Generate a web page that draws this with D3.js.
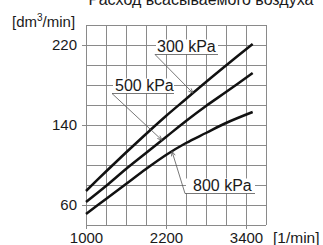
<!DOCTYPE html>
<html><head><meta charset="utf-8">
<script src="https://cdn.jsdelivr.net/npm/d3@7"></script>
<style>html,body{margin:0;padding:0;background:#fff;}svg{display:block;}</style>
</head><body>
<svg id="c" width="323" height="245"></svg>
<script>
const rpm = [1000, 1300, 1600, 1900, 2200, 2500, 2800, 3100, 3500];
const flow300 = [74, 93.5, 112.5, 131, 149, 166, 183, 199.5, 221];
const flow500 = [63, 79, 96, 112, 128, 144, 159, 173, 192];
const flow800 = [51, 66, 81, 96, 110, 122, 132, 142, 153];
const seriesNames = ["300 kPa", "500 kPa", "800 kPa"];
const labelRpm = [2605, 2140, 2290];
const xTicks = [1000, 2200, 3400];
const yTicks = [60, 140, 220];
const title = "Расход всасываемого воздуха";

const svg = d3.select("#c");
const L = 86, R = 266, T = 25, B = 225;
const x = d3.scaleLinear().domain([1000, 3700]).range([L, R]);
const y = d3.scaleLinear().domain([40, 240]).range([B, T]);
const font = "'Liberation Sans', Arial, sans-serif";
const gridC = "#8a8a8a", textC = "#1a1a1a";

// grid
const g = svg.append("g");
g.selectAll("line.v").data(d3.range(1000, 3701, 300)).join("line")
  .attr("x1", d => x(d)).attr("x2", d => x(d)).attr("y1", T).attr("y2", B)
  .attr("stroke", gridC).attr("stroke-width", 1).attr("shape-rendering", "crispEdges");
g.selectAll("line.h").data(d3.range(40, 241, 20)).join("line")
  .attr("x1", L).attr("x2", R).attr("y1", d => y(d)).attr("y2", d => y(d))
  .attr("stroke", gridC).attr("stroke-width", 1).attr("shape-rendering", "crispEdges");

// axes
const ax = svg.append("g").attr("transform", `translate(0,${B})`)
  .call(d3.axisBottom(x).tickValues(xTicks).tickSize(4).tickPadding(6).tickFormat(d3.format("d")));
const ay = svg.append("g").attr("transform", `translate(${L},0)`)
  .call(d3.axisLeft(y).tickValues(yTicks).tickSize(4).tickPadding(5).tickFormat(d3.format("d")));
[ax, ay].forEach(a => {
  a.select(".domain").remove();
  a.selectAll("line").attr("stroke", gridC).attr("shape-rendering", "crispEdges");
  a.selectAll("text").attr("fill", textC).style("font-family", font).style("font-size", "15px");
});
ax.selectAll("text").attr("dy", "0.71em").attr("y", 7);

// curves
const series = [flow300, flow500, flow800];
const line = d3.line().x((d, i) => x(rpm[i])).y(d => y(d)).curve(d3.curveCatmullRom.alpha(0.5));
svg.selectAll("path.s").data(series).join("path")
  .attr("d", d => line(d)).attr("fill", "none").attr("stroke", "#111").attr("stroke-width", 2.5);

// labels with leaders
function valAt(arr, r) {
  return d3.scaleLinear().domain(rpm).range(arr)(r);
}
const labLayout = [
  {tx: 157, ty: 52, ux0: 155, ux1: 218},
  {tx: 115, ty: 91, ux0: 112, ux1: 174},
  {tx: 193, ty: 191, ux0: 185, ux1: 255}
];
seriesNames.forEach((name, i) => {
  const lo = labLayout[i];
  const ex = x(labelRpm[i]), ey = y(valAt(series[i], labelRpm[i]));
  const uy = lo.ty + 2.5;
  svg.append("rect").attr("x", lo.ux0 + 1).attr("y", lo.ty - 12.5).attr("width", lo.ux1 - lo.ux0 - 1).attr("height", 15).attr("fill", "#fff");
  svg.append("text").attr("x", lo.tx).attr("y", lo.ty).text(name)
    .attr("fill", textC).style("font-family", font).style("font-size", "16px");
  svg.append("line").attr("x1", lo.ux0).attr("x2", lo.ux1).attr("y1", uy).attr("y2", uy)
    .attr("stroke", "#555").attr("stroke-width", 0.8);
  svg.append("line").attr("x1", lo.ux0).attr("y1", uy).attr("x2", ex).attr("y2", ey)
    .attr("stroke", "#555").attr("stroke-width", 0.8);
  const ang = Math.atan2(ey - uy, ex - lo.ux0);
  const a1 = ang + Math.PI - 0.4, a2 = ang + Math.PI + 0.4, len = 5;
  svg.append("path")
    .attr("d", `M${ex + len * Math.cos(a1)},${ey + len * Math.sin(a1)}L${ex},${ey}L${ex + len * Math.cos(a2)},${ey + len * Math.sin(a2)}`)
    .attr("fill", "none").attr("stroke", "#555").attr("stroke-width", 0.8);
});

// unit labels and title
const yl = svg.append("text").attr("x", 12).attr("y", 27).attr("fill", textC)
  .style("font-family", font).style("font-size", "15px");
yl.append("tspan").text("[dm");
yl.append("tspan").text("3").attr("dy", -6).style("font-size", "10px");
yl.append("tspan").text("/min]").attr("dy", 6);
svg.append("text").attr("x", 273).attr("y", 243).text("[1/min]").attr("fill", textC)
  .style("font-family", font).style("font-size", "15.5px");
svg.append("text").attr("x", 201).attr("y", 5).attr("text-anchor", "middle").text(title)
  .attr("fill", textC).style("font-family", font).style("font-size", "16px");
</script>
</body></html>
